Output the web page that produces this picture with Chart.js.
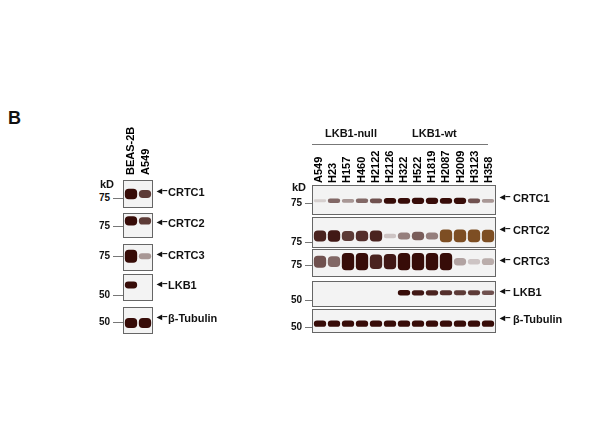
<!DOCTYPE html>
<html>
<head>
<meta charset="utf-8">
<script src="https://cdn.jsdelivr.net/npm/chart.js@4.4.0/dist/chart.umd.min.js"></script>
<style>
  body { margin: 0; background: #fff; font-family: Arial, "Liberation Sans", sans-serif; }
  #wrap { position: relative; width: 600px; height: 447px; }
  .panel { position: absolute; border: 1px solid #666; background: #f3f3f3; box-sizing: border-box; }
  .panel canvas { display: block; }
  .txt { position: absolute; font-weight: bold; color: #111; white-space: nowrap; }
  .lane { position: absolute; font-weight: bold; font-size: 11px; transform-origin: left top; transform: rotate(-90deg); white-space: nowrap; }
  .tick { position: absolute; height: 1px; background: #777; }
</style>
</head>
<body>
<div id="wrap"></div>
<script>
// lanes
const leftLanes = ['BEAS-2B', 'A549'];
const rightLanes = ['A549', 'H23', 'H157', 'H460', 'H2122', 'H2126', 'H322', 'H522', 'H1819', 'H2087', 'H2009', 'H3123', 'H358'];
const proteins = ['CRTC1', 'CRTC2', 'CRTC3', 'LKB1', 'β-Tubulin'];
const markers = ['75', '75', '75', '50', '50'];

// band intensity (0..1) read from the blot
const leftCRTC1 = [1.0, 0.7];
const leftCRTC2 = [1.0, 0.7];
const leftCRTC3 = [1.0, 0.3];
const leftLKB1 = [0.95, 0];
const leftTub = [1.0, 1.0];

const rightCRTC1 = [0.05, 0.5, 0.3, 0.5, 0.6, 0.9, 0.9, 1.0, 1.0, 0.9, 1.0, 0.6, 0.3];
const rightCRTC2 = [0.8, 0.85, 0.7, 0.75, 0.8, 0.1, 0.4, 0.55, 0.4, 1.0, 1.0, 1.0, 0.95];
const rightCRTC3 = [0.6, 0.5, 1.0, 1.0, 0.8, 0.85, 1.0, 1.0, 1.0, 1.0, 0.25, 0.1, 0.2];
const rightLKB1 = [0, 0, 0, 0, 0, 0, 0.9, 0.85, 0.8, 0.75, 0.7, 0.7, 0.6];
const rightTub = [0.9, 0.9, 0.9, 0.9, 0.9, 0.9, 0.9, 0.9, 0.9, 0.9, 0.9, 0.9, 0.9];

const wrap = document.getElementById('wrap');

function addText(text, x, y, size, cls) {
    let d = document.createElement('div');
    d.className = cls || 'txt';
    d.style.left = x + 'px';
    d.style.top = y + 'px';
    d.style.fontSize = size + 'px';
    d.textContent = text;
    wrap.appendChild(d);
    return d;
}

function addLine(x, y, w) {
    let t = document.createElement('div');
    t.className = 'tick';
    t.style.left = x + 'px'; t.style.top = y + 'px'; t.style.width = w + 'px';
    wrap.appendChild(t);
}

function addPanel(x, y, w, h, lanes, values, center, base, gain, colour) {
    let div = document.createElement('div');
    div.className = 'panel';
    div.style.left = x + 'px'; div.style.top = y + 'px';
    div.style.width = w + 'px'; div.style.height = h + 'px';
    let c = document.createElement('canvas');
    c.width = w - 2; c.height = h - 2;
    div.appendChild(c);
    wrap.appendChild(div);

    new Chart(c.getContext('2d'), {
        type: 'bar',
        data: {
            labels: lanes,
            datasets: [{
                data: values.map(v => {
                    let half = v > 0 ? base + gain * v : 0;
                    return [center - half, center + half];
                }),
                backgroundColor: values.map(v => colour(v)),
                borderRadius: 4,
                borderSkipped: false,
                categoryPercentage: 0.98,
                barPercentage: 0.9
            }]
        },
        options: {
            responsive: false,
            animation: false,
            layout: { padding: 0 },
            plugins: { legend: { display: false }, tooltip: { enabled: false } },
            scales: {
                x: { display: false },
                y: { display: false, min: 0, max: 1 }
            }
        }
    });
}

const dark = v => 'rgba(55,12,8,' + Math.min(1, 0.1 + v) + ')';
const brown = v => v > 0.9 ? 'rgba(125,78,35,1)' : dark(v);

addText('B', 8, 108, 18);

// ---- left blot ----
const leftBoxes = [[180, 28], [213, 25], [244, 27], [274, 27], [307, 27]];
const leftData = [leftCRTC1, leftCRTC2, leftCRTC3, leftLKB1, leftTub];
const leftCenter = [0.5, 0.7, 0.55, 0.6, 0.4];
const leftGain = [0.14, 0.14, 0.2, 0.08, 0.14];
const leftMarkY = [198, 226, 256, 295, 322];
leftBoxes.forEach(function (b, i) {
    addPanel(123, b[0], 30, b[1], leftLanes, leftData[i], leftCenter[i], 0.06, leftGain[i], dark);
    addText(markers[i], 99, leftMarkY[i] - 6, 10);
    addLine(113, leftMarkY[i], 10);
    addText('◂–', 157, b[0] + b[1] * 0.45 - 8, 10);
    addText(proteins[i], 168, b[0] + b[1] * 0.45 - 7, 11);
});
addText('kD', 100, 178, 11);
leftLanes.forEach(function (l, i) {
    addText(l, 123 + 15 * i + 1, 175, 11, 'lane');
});

// ---- right blot ----
const rightBoxes = [[185, 30], [217, 31], [249, 28], [281, 26], [309, 24]];
const rightData = [rightCRTC1, rightCRTC2, rightCRTC3, rightLKB1, rightTub];
const rightCenter = [0.47, 0.38, 0.55, 0.55, 0.38];
const rightBase = [0.05, 0.06, 0.08, 0.06, 0.1];
const rightGain = [0.06, 0.16, 0.25, 0.06, 0.05];
const rightColour = [dark, brown, dark, dark, dark];
const rightMarkY = [203, 242, 265, 300, 327];
rightBoxes.forEach(function (b, i) {
    addPanel(312, b[0], 184, b[1], rightLanes, rightData[i], rightCenter[i], rightBase[i], rightGain[i], rightColour[i]);
    addText(markers[i], 291, rightMarkY[i] - 6, 10);
    addLine(305, rightMarkY[i], 7);
    addText('◂–', 500, b[0] + b[1] * 0.45 - 8, 10);
    addText(proteins[i], 513, b[0] + b[1] * 0.45 - 7, 11);
});
addText('kD', 292, 181, 11);
rightLanes.forEach(function (l, i) {
    addText(l, 312 + 184 / 13 * (i + 0.5) - 7, 183, 11, 'lane');
});
addText('LKB1-null', 325, 127, 11);
addText('LKB1-wt', 412, 127, 11);
addLine(312, 144, 86);
addLine(398, 144, 90);
</script>
</body>
</html>
